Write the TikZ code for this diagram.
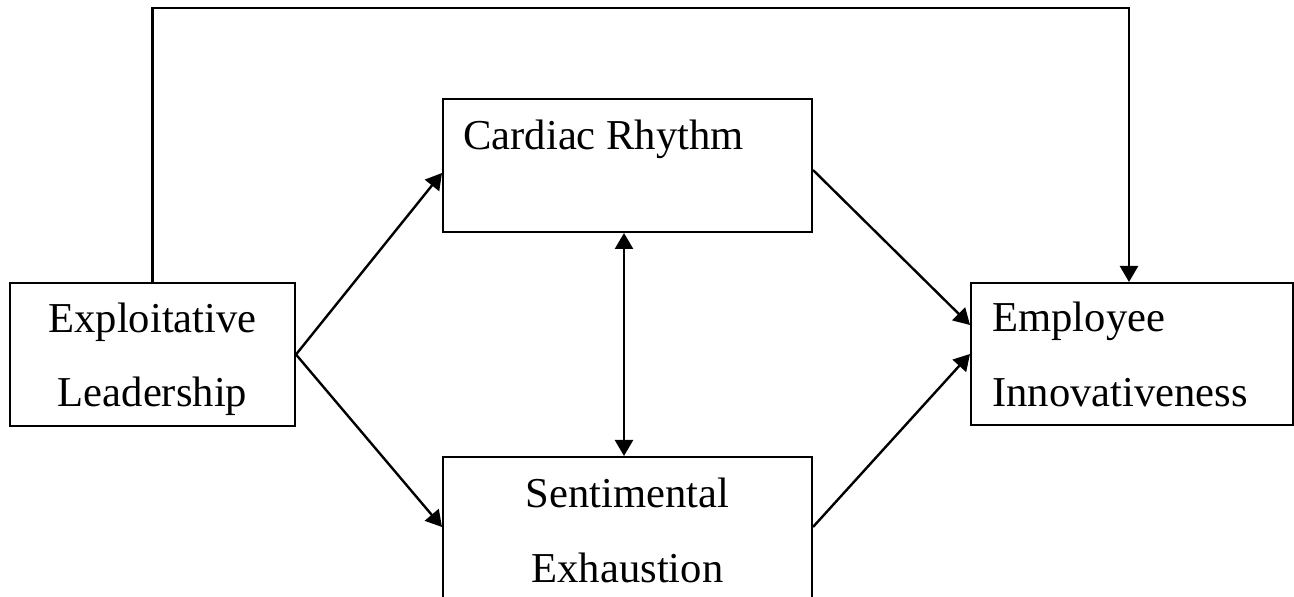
\documentclass[tikz,border=0pt]{standalone}
\usepackage{fontspec}
\setmainfont{Liberation Serif}
\usepackage{tikz}
\usetikzlibrary{arrows.meta}

\tikzset{
  box/.style={shape=rectangle,draw=black,line width=1pt,inner sep=0pt},
  lbl/.style={font=\fontsize{21.3}{37}\selectfont,inner sep=0pt},
  arr/.style={line width=1.2pt,-{Triangle[length=8pt,width=9pt]}},
  darr/.style={line width=1.2pt,{Triangle[length=8pt,width=9pt]}-{Triangle[length=8pt,width=9pt]}}
}

\begin{document}
\begin{tikzpicture}[x=0.5pt,y=-0.5pt]
                \useasboundingbox (0,0) rectangle (1294,597);

                \node[box,minimum width=142.5pt,minimum height=71.5pt] (EL) at (152.5,354.5) {};
                \node[box,minimum width=184.5pt,minimum height=66.5pt] (CR) at (627.5,165.5) {};
                \node[box,minimum width=184.5pt,minimum height=76.5pt] (SE) at (627.5,533.5) {};
                \node[box,minimum width=161pt,minimum height=71pt] (EI) at (1132,354) {};

                \node[lbl,anchor=base] (EL1) at (152.5,333) {Exploitative};
                \node[lbl,anchor=base] (EL2) at (152.5,407) {Leadership};
                \node[lbl,anchor=base west] (CR1) at (463,150) {Cardiac Rhythm};
                \node[lbl,anchor=base] (SE1) at (627.5,508) {Sentimental};
                \node[lbl,anchor=base] (SE2) at (627.5,582) {Exhaustion};
                \node[lbl,anchor=base west] (EI1) at (992,332) {Employee};
                \node[lbl,anchor=base west] (EI2) at (992,407) {Innovativeness};

                \coordinate (top) at (640,8);

                \path [arr](EL.east) edge ([yshift=-3.75pt]CR.west);
                \path [arr](EL.east) edge ([yshift=3.25pt]SE.west);
                \path [arr]([yshift=-2.25pt]CR.east) edge ([yshift=14.5pt]EI.west);
                \path [arr]([yshift=3.25pt]SE.east) edge (EI.west);
                \path [darr]([xshift=-1.75pt]CR.south) edge ([xshift=-1.75pt]SE.north);
                \draw [arr](EL.north) |- (top) -| ([xshift=-1.5pt]EI.north);
            \end{tikzpicture}
\end{document}
